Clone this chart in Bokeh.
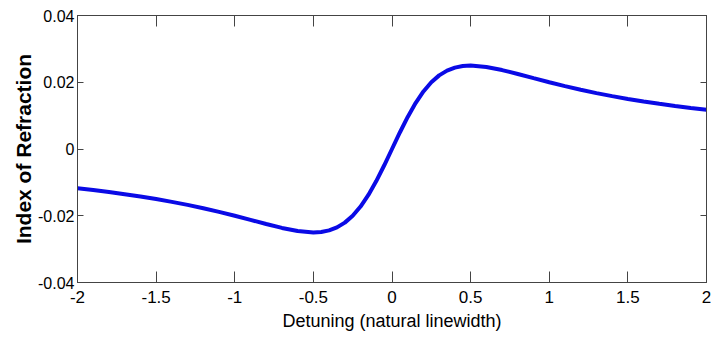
from bokeh.plotting import figure
from bokeh.models import LinearAxis, FixedTicker, Range1d
from bokeh.embed import file_html
from bokeh.resources import INLINE

detuning = [-2.0, -1.9, -1.8, -1.7, -1.6, -1.5, -1.4, -1.3, -1.2, -1.1, -1.0,
            -0.9, -0.8, -0.7, -0.6, -0.5, -0.45, -0.4, -0.35, -0.3, -0.25, -0.2,
            -0.15, -0.1, -0.05, 0.0, 0.05, 0.1, 0.15, 0.2, 0.25, 0.3, 0.35, 0.4,
            0.45, 0.5, 0.6, 0.7, 0.8, 0.9, 1.0, 1.1, 1.2, 1.3, 1.4, 1.5, 1.6,
            1.7, 1.8, 1.9, 2.0]
index_refraction = [-0.01176, -0.01231, -0.01289, -0.01354, -0.01423, -0.0150,
                    -0.01584, -0.01675, -0.01775, -0.01884, -0.0200, -0.02123,
                    -0.02247, -0.02365, -0.02459, -0.0250, -0.02486, -0.02439,
                    -0.02349, -0.02206, -0.0200, -0.01724, -0.01376, -0.00962,
                    -0.00495, 0.0, 0.00495, 0.00962, 0.01376, 0.01724, 0.0200,
                    0.02206, 0.02349, 0.02439, 0.02486, 0.0250, 0.02459, 0.02365,
                    0.02247, 0.02123, 0.0200, 0.01884, 0.01775, 0.01675, 0.01584,
                    0.0150, 0.01423, 0.01354, 0.01289, 0.01231, 0.01176]
x_ticks = [-2, -1.5, -1, -0.5, 0, 0.5, 1, 1.5, 2]
x_tick_labels = ["-2", "-1.5", "-1", "-0.5", "0", "0.5", "1", "1.5", "2"]
y_ticks = [-0.04, -0.02, 0, 0.02, 0.04]
y_tick_labels = ["-0.04", "-0.02", "0", "0.02", "0.04"]

FONT = "'Liberation Sans Narrow', 'Arial Narrow', 'Liberation Sans', sans-serif"

p = figure(width=714, height=339, output_backend="svg", toolbar_location=None,
           x_range=Range1d(-2, 2), y_range=Range1d(-0.04, 0.04),
           min_border_left=77, min_border_right=8, min_border_top=15,
           min_border_bottom=57, x_axis_location=None, y_axis_location=None)
p.grid.visible = False
p.outline_line_color = "#444444"
p.outline_line_width = 1
p.background_fill_color = "white"
p.border_fill_color = "white"

p.line(detuning, index_refraction, line_color="#0a0ae6", line_width=4)

def style(ax, tick_len, labels=True):
    ax.major_tick_in = tick_len
    ax.major_tick_out = 0
    ax.minor_tick_in = 0
    ax.minor_tick_out = 0
    ax.axis_line_color = "#444444"
    ax.major_tick_line_color = "#444444"
    if not labels:
        ax.major_label_text_font_size = "0px"
        ax.major_label_text_alpha = 0

xb = LinearAxis(ticker=FixedTicker(ticks=x_ticks),
                major_label_overrides={t: l for t, l in zip(x_ticks, x_tick_labels)},
                axis_label="Detuning (natural linewidth)")
style(xb, 11)
xb.major_label_text_font = FONT
xb.major_label_text_font_size = "17px"
xb.major_label_text_color = "black"
xb.major_label_standoff = 8
xb.axis_label_text_font = FONT
xb.axis_label_text_font_size = "18px"
xb.axis_label_text_font_style = "normal"
xb.axis_label_text_color = "black"
xb.axis_label_standoff = 5
p.add_layout(xb, "below")

yl = LinearAxis(ticker=FixedTicker(ticks=y_ticks),
                major_label_overrides={t: l for t, l in zip(y_ticks, y_tick_labels)},
                axis_label="Index of Refraction")
style(yl, 6)
yl.major_label_text_font = FONT
yl.major_label_text_font_size = "16px"
yl.major_label_text_color = "black"
yl.major_label_standoff = 3
yl.axis_label_text_font = "Liberation Sans"
yl.axis_label_text_font_size = "21px"
yl.axis_label_text_font_style = "bold"
yl.axis_label_text_color = "black"
yl.axis_label_standoff = 0
p.add_layout(yl, "left")

xt = LinearAxis(ticker=FixedTicker(ticks=x_ticks))
style(xt, 11, labels=False)
p.add_layout(xt, "above")

yr = LinearAxis(ticker=FixedTicker(ticks=y_ticks))
style(yr, 6, labels=False)
p.add_layout(yr, "right")

open("out.html", "w").write(file_html(p, INLINE))
